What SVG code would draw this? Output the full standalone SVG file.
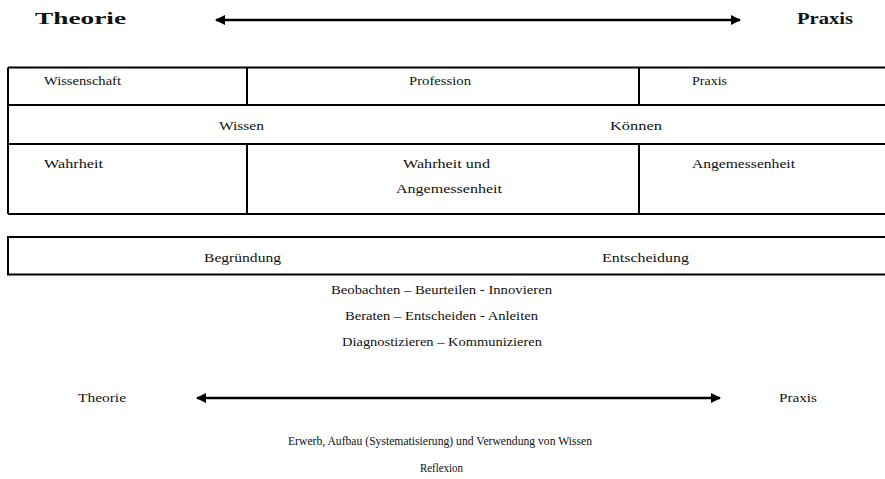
<svg xmlns="http://www.w3.org/2000/svg" width="885" height="479" viewBox="0 0 885 479">
<style>
text{font-family:"Liberation Serif","Times New Roman",serif;fill:#111;}
.h{font-size:17px;font-weight:bold;}
.t{font-size:12.5px;}
.s{font-size:12px;}
.ln{stroke:#000;stroke-width:2;fill:none;}
.ar{stroke:#000;stroke-width:2.5;fill:none;}
</style>
<defs>
<marker id="ah" viewBox="0 0 10 10" refX="9" refY="5" markerWidth="4" markerHeight="4" orient="auto-start-reverse" markerUnits="strokeWidth">
<path d="M0,0 L10,5 L0,10 Z" fill="#000"/>
</marker>
</defs>
<rect width="885" height="479" fill="#fff"/>
<g id="top-labels">
<text class="h" x="35" y="24" textLength="91" lengthAdjust="spacingAndGlyphs">Theorie</text>
<text class="h" x="797" y="24" textLength="56" lengthAdjust="spacingAndGlyphs">Praxis</text>
</g>
<g id="table">
<path class="ln" d="M8,67.5 H890 M8,105 H890 M8,144 H890 M8,214 H890 M8,67.5 V214 M247,67.5 V105 M639,67.5 V105 M247,144 V214 M639,144 V214"/>
<text class="t" x="44" y="85" textLength="77" lengthAdjust="spacingAndGlyphs">Wissenschaft</text>
<text class="t" x="409" y="85" textLength="62" lengthAdjust="spacingAndGlyphs">Profession</text>
<text class="t" x="692" y="85" textLength="35" lengthAdjust="spacingAndGlyphs">Praxis</text>
<text class="t" x="219" y="130" textLength="45" lengthAdjust="spacingAndGlyphs">Wissen</text>
<text class="t" x="610" y="130" textLength="52" lengthAdjust="spacingAndGlyphs">Können</text>
<text class="t" x="44" y="168" textLength="59" lengthAdjust="spacingAndGlyphs">Wahrheit</text>
<text class="t" x="403" y="168" textLength="87" lengthAdjust="spacingAndGlyphs">Wahrheit und</text>
<text class="t" x="396" y="193" textLength="106" lengthAdjust="spacingAndGlyphs">Angemessenheit</text>
<text class="t" x="692" y="168" textLength="103" lengthAdjust="spacingAndGlyphs">Angemessenheit</text>
</g>
<g id="box2">
<path class="ln" d="M890,237 H8 V274.5 H890"/>
<text class="t" x="204" y="262" textLength="77" lengthAdjust="spacingAndGlyphs">Begründung</text>
<text class="t" x="602" y="262" textLength="87" lengthAdjust="spacingAndGlyphs">Entscheidung</text>
</g>
<g id="activities">
<text class="s" x="331" y="294" textLength="221" lengthAdjust="spacingAndGlyphs">Beobachten – Beurteilen - Innovieren</text>
<text class="s" x="345" y="320" textLength="193" lengthAdjust="spacingAndGlyphs">Beraten – Entscheiden - Anleiten</text>
<text class="s" x="342" y="346" textLength="200" lengthAdjust="spacingAndGlyphs">Diagnostizieren – Kommunizieren</text>
</g>
<g id="bottom-labels">
<text class="t" x="78" y="402" textLength="48" lengthAdjust="spacingAndGlyphs">Theorie</text>
<text class="t" x="779" y="402" textLength="38" lengthAdjust="spacingAndGlyphs">Praxis</text>
<text class="s" x="288" y="445" textLength="304" lengthAdjust="spacingAndGlyphs">Erwerb, Aufbau (Systematisierung) und Verwendung von Wissen</text>
<text class="s" x="420" y="472" textLength="43" lengthAdjust="spacingAndGlyphs">Reflexion</text>
</g>
<g id="connectors">
<line class="ar" x1="216" y1="20" x2="740" y2="20" marker-start="url(#ah)" marker-end="url(#ah)"/>
<line class="ar" x1="197" y1="398" x2="720" y2="398" marker-start="url(#ah)" marker-end="url(#ah)"/>
</g>
</svg>
